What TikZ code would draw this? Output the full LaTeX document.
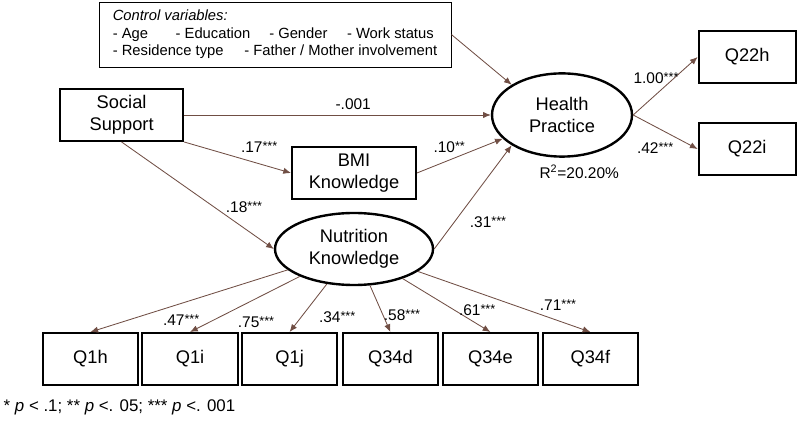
\documentclass[tikz,border=0pt]{standalone}
\usepackage{fontspec}
\setmainfont{Liberation Sans}
\usetikzlibrary{arrows.meta,shapes.geometric}
\definecolor{pathbrown}{RGB}{112,78,68}
\newcommand{\sigstars}[1]{{\fontsize{9}{9}\selectfont\raisebox{1.5pt}{#1}}}
\tikzset{
  obsbox/.style={draw=black, line width=1.4pt, minimum width=2.38cm, minimum height=1.3cm, align=center, font=\fontsize{13}{15.5}\selectfont},
  latent/.style={ellipse, draw=black, line width=1.7pt, inner sep=0pt, align=center, font=\fontsize{13}{15.5}\selectfont},
  coef/.style={inner sep=1pt, font=\fontsize{11}{12}\selectfont},
  arr/.style={draw=pathbrown, line width=0.6pt, -{Latex[length=5.5pt,width=4.5pt]}}
}

\begin{document}
\begin{tikzpicture}
  \useasboundingbox (0,0) rectangle (19.925,10.625);
  % Control box
  \node[draw=black, line width=0.7pt, minimum width=8.8cm, minimum height=1.63cm, align=left, font=\fontsize{10.5}{12.4}\selectfont] (ctrl) at (6.875,9.76) {\textit{Control variables:}\\\makebox[44.7pt][l]{- Age}\makebox[66.6pt][l]{- Education}\makebox[55.3pt][l]{- Gender}- Work status\\\makebox[93.6pt][l]{- Residence type}- Father / Mother involvement};
  % Structural part
  \node[obsbox, minimum width=3.08cm] (ss) at (3.04,7.75) {Social\\Support};
  \node[obsbox, minimum width=3.1cm] (bmi) at (8.85,6.3) {BMI\\Knowledge};
  \node[latent, minimum width=3.5cm, minimum height=2.08cm] (hp) at (14.05,7.75) {Health\\Practice};
  \node[latent, minimum width=3.95cm, minimum height=1.8cm] (nk) at (8.85,4.4) {Nutrition\\Knowledge};
  \node[obsbox, minimum width=2.43cm, minimum height=1.28cm] (q22h) at (18.68,9.2) {Q22h};
  \node[obsbox, minimum width=2.43cm, minimum height=1.28cm] (q22i) at (18.68,6.9) {Q22i};
  % Indicators
  \node[obsbox] (q1h) at (2.26,1.65) {Q1h};
  \node[obsbox] (q1i) at (4.75,1.65) {Q1i};
  \node[obsbox] (q1j) at (7.24,1.65) {Q1j};
  \node[obsbox] (q34d) at (9.76,1.65) {Q34d};
  \node[obsbox] (q34e) at (12.26,1.65) {Q34e};
  \node[obsbox] (q34f) at (14.76,1.65) {Q34f};
  % Paths
  \draw[arr] (ctrl.east) -- (hp.north west);
  \draw[arr] (ss) -- (hp);
  \draw[arr] (ss.south east) -- (bmi.west);
  \draw[arr] (ss.south) -- (nk.west);
  \draw[arr] (bmi.east) -- (hp);
  \draw[arr] (nk.east) -- (hp.south west);
  \draw[arr] (hp.east) -- (q22h.west);
  \draw[arr] (hp.east) -- (q22i.west);
  \foreach \q in {q1h,q1i,q1j,q34d,q34e,q34f}
    \draw[arr] (nk) -- (\q.north);
  % Coefficients
  \node[coef] (cSsHp) at (8.83,8.03) {-.001};
  \node[coef] (cSsBmi) at (6.48,6.95) {.17\sigstars{***}};
  \node[coef] (cSsNk) at (6.1,5.45) {.18\sigstars{***}};
  \node[coef] (cBmiHp) at (11.23,6.95) {.10\sigstars{**}};
  \node[coef] (cNkHp) at (12.2,5.08) {.31\sigstars{***}};
  \node[coef] (cHpQh) at (16.4,8.68) {1.00\sigstars{***}};
  \node[coef] (cHpQi) at (16.38,6.93) {.42\sigstars{***}};
  \node[coef] (rsq) at (14.48,6.33) {R\textsuperscript{2}=20.20\%};
  \node[coef] (cQ1i) at (4.53,2.63) {.47\sigstars{***}};
  \node[coef] (cQ1j) at (6.4,2.58) {.75\sigstars{***}};
  \node[coef] (cQ34d) at (8.43,2.7) {.34\sigstars{***}};
  \node[coef] (cQ34e) at (10.05,2.75) {.58\sigstars{***}};
  \node[coef] (cQ34f) at (11.93,2.88) {.61\sigstars{***}};
  \node[coef] (cQ34g) at (13.95,3.0) {.71\sigstars{***}};
  % Footnote
  \node[coef, anchor=west, font=\fontsize{12}{14}\selectfont] (note) at (0.05,0.43) {* \textit{p} < .1; ** \textit{p} <. 05; *** \textit{p} <. 001};
\end{tikzpicture}
\end{document}
